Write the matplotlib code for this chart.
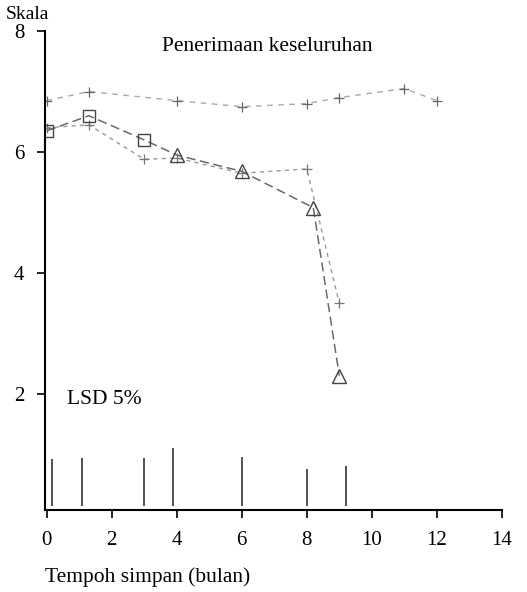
import numpy as np
import matplotlib.pyplot as plt

plt.rcParams['font.family'] = ['Liberation Serif', 'DejaVu Serif']

# Siri atas (tanda +)
bulan_a = [0, 1.3, 4, 6, 8, 9, 11, 12]
skor_a = [6.85, 7.0, 6.85, 6.75, 6.8, 6.9, 7.05, 6.85]

# Siri segi tiga
bulan_b = [0, 1.3, 3, 4, 6, 8.2, 9]
skor_b = [6.35, 6.6, 6.2, 5.95, 5.68, 5.08, 2.3]

# Siri ketiga
bulan_c = [0, 1.3, 3, 4, 6, 8, 9]
skor_c = [6.4, 6.45, 5.88, 5.9, 5.65, 5.72, 3.5]

# Bar LSD 5%
lsd_x = [0.15, 1.1, 3.0, 3.9, 6.0, 8.0, 9.2]
lsd_len = [0.78, 0.79, 0.79, 0.96, 0.81, 0.60, 0.66]
lsd_base = 0.15

xticks = [0, 2, 4, 6, 8, 10, 12, 14]
yticks = [2, 4, 6, 8]

fig = plt.figure(figsize=(5.27, 5.92), dpi=100)
ax = fig.add_axes([0.0854, 0.1385, 0.867, 0.809])

ax.plot(bulan_a, skor_a, color='#a8a8a8', ls=(0, (4, 4)), lw=1.0,
        marker='+', ms=7, mec='#666666', mew=0.9)
ax.plot(bulan_c, skor_c, color='#9a9a9a', ls=(0, (3, 3)), lw=1.0,
        marker='+', ms=7, mec='#777777', mew=0.9)
ax.plot(bulan_b, skor_b, color='#6a6a6a', ls=(0, (6, 3)), lw=1.1)
ax.plot(bulan_b[:3], skor_b[:3], ls='none', marker='s', ms=8, mfc='none',
        mec='#444444', mew=1.0)
ax.plot(bulan_b[3:], skor_b[3:], ls='none', marker='^', ms=10, mfc='none',
        mec='#444444', mew=1.0)

ax.vlines(lsd_x, lsd_base, np.add(lsd_base, lsd_len), color='#333333', lw=1.2)

ax.set_xlim(-0.05, 14)
ax.set_ylim(0.08, 8)
ax.set_xticks(xticks)
ax.set_yticks(yticks)
ax.tick_params(direction='out', length=6, width=1.2, labelsize=15, pad=9)
ax.spines['top'].set_visible(False)
ax.spines['right'].set_visible(False)
ax.spines['left'].set_linewidth(1.5)
ax.spines['bottom'].set_linewidth(1.5)

fig.text(0.01, 0.975, 'Skala', fontsize=14, va='center', ha='left')
ax.text(0.257, 0.967, 'Penerimaan keseluruhan', transform=ax.transAxes,
        fontsize=15.5, va='center', ha='left')
ax.text(0.62, 1.9, 'LSD 5%', fontsize=15.5, va='center', ha='left')
fig.text(0.085, 0.025, 'Tempoh simpan (bulan)', fontsize=15.5, va='center', ha='left')

fig.savefig('out.png', dpi=100)
